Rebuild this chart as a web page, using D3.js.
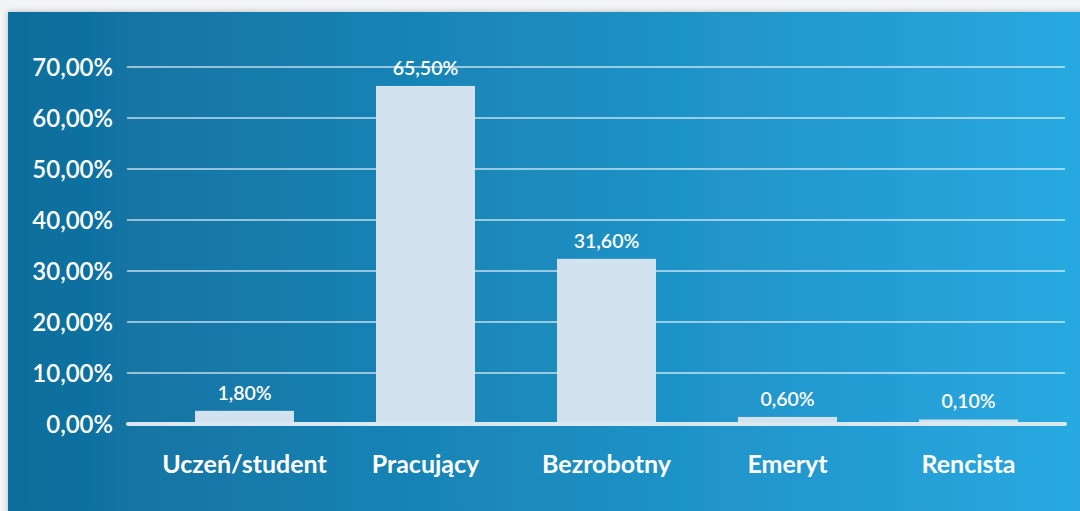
<!DOCTYPE html>
<html><head><meta charset="utf-8">
<script src="https://cdn.jsdelivr.net/npm/d3@7"></script>
<style>html,body{margin:0;padding:0;background:#f4f5f7;overflow:hidden}</style>
</head><body>
<svg id="c" width="1080" height="511"></svg>
<script>
const categories = ["Uczeń/student","Pracujący","Bezrobotny","Emeryt","Rencista"];
const values = [1.8, 65.5, 31.6, 0.6, 0.1];
const valueLabels = ["1,80%","65,50%","31,60%","0,60%","0,10%"];
const yTicks = [0,10,20,30,40,50,60,70];
const yTickLabels = ["0,00%","10,00%","20,00%","30,00%","40,00%","50,00%","60,00%","70,00%"];

const svg = d3.select("#c");
const defs = svg.append("defs");
const g1 = defs.append("linearGradient").attr("id","bg").attr("x1","0").attr("x2","1").attr("y1","0").attr("y2","0");
g1.append("stop").attr("offset","0").attr("stop-color","#0f6d9b");
g1.append("stop").attr("offset","1").attr("stop-color","#29aae2");
const f = defs.append("filter").attr("id","sh").attr("x","-5%").attr("y","-5%").attr("width","110%").attr("height","110%");
f.append("feDropShadow").attr("dx",0).attr("dy",0).attr("stdDeviation",3).attr("flood-color","#000").attr("flood-opacity",0.25);

svg.append("rect").attr("x",0).attr("y",0).attr("width",1080).attr("height",511).attr("fill","#f3f4f6");
svg.append("rect").attr("x",8).attr("y",12).attr("width",1090).attr("height",520).attr("fill","url(#bg)").attr("filter","url(#sh)");

const y = d3.scaleLinear().domain([0,70]).range([424,67]);
const x = d3.scaleBand().domain(categories).range([154,1059]).paddingInner(0.453).paddingOuter(0.2265);

const font = "Lato, 'Open Sans', sans-serif";

// gridlines
svg.append("g").selectAll("line").data(yTicks.filter(t=>t>0)).join("line")
  .attr("x1",127).attr("x2",1065).attr("y1",d=>y(d)).attr("y2",d=>y(d))
  .attr("stroke","#ffffff").attr("stroke-opacity",0.55).attr("stroke-width",2);

// y labels
svg.append("g").selectAll("text").data(yTicks).join("text")
  .attr("x",113).attr("y",d=>y(d)).attr("dy","0.36em").attr("text-anchor","end")
  .attr("fill","#fff").attr("font-family",font).attr("font-weight",600).attr("font-size",24)
  .text((d,i)=>yTickLabels[i]);

// bars
svg.append("g").selectAll("rect").data(values).join("rect")
  .attr("x",(d,i)=>x(categories[i])).attr("width",x.bandwidth())
  .attr("y",d=>y(d)-4).attr("height",d=>y(0)-y(d)+4)
  .attr("fill","#d3e2ef");

// baseline
svg.append("line").attr("x1",128).attr("x2",1065).attr("y1",y(0)).attr("y2",y(0))
  .attr("stroke","#d9e9f4").attr("stroke-width",4).attr("stroke-linecap","round");

// value labels
svg.append("g").selectAll("text").data(values).join("text")
  .attr("x",(d,i)=>x(categories[i])+x.bandwidth()/2).attr("y",d=>y(d)-15)
  .attr("text-anchor","middle").attr("fill","#fff").attr("font-family",font)
  .attr("font-weight",600).attr("font-size",19.5)
  .text((d,i)=>valueLabels[i]);

// category labels
svg.append("g").selectAll("text").data(categories).join("text")
  .attr("x",d=>x(d)+x.bandwidth()/2).attr("y",473).attr("text-anchor","middle")
  .attr("fill","#fff").attr("font-family",font).attr("font-weight",700).attr("font-size",25)
  .text(d=>d);
</script>
</body></html>
